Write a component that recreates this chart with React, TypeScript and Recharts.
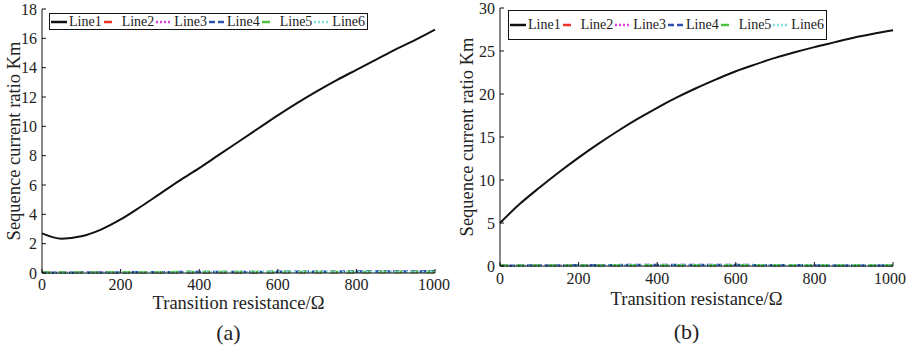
import React from 'react'
import { LineChart, Line, XAxis, YAxis, Legend } from 'recharts'

const resistance = [0, 50, 100, 150, 200, 250, 300, 350, 400, 450, 500, 550, 600, 650, 700, 750, 800, 850, 900, 950, 1000]

// (a)
const a_line1 = [2.7, 2.34, 2.5, 2.96, 3.65, 4.5, 5.4, 6.3, 7.15, 8.05, 8.95, 9.85, 10.75, 11.6, 12.4, 13.15, 13.85, 14.55, 15.25, 15.9, 16.6]
const a_line2 = [0.02, 0.02, 0.02, 0.03, 0.03, 0.03, 0.03, 0.04, 0.04, 0.04, 0.04, 0.04, 0.05, 0.05, 0.05, 0.05, 0.05, 0.06, 0.06, 0.06, 0.06]
const a_line3 = [0.03, 0.03, 0.03, 0.04, 0.04, 0.04, 0.05, 0.05, 0.05, 0.05, 0.06, 0.06, 0.06, 0.06, 0.07, 0.07, 0.07, 0.07, 0.08, 0.08, 0.08]
const a_line4 = [0.02, 0.02, 0.03, 0.03, 0.04, 0.05, 0.05, 0.06, 0.06, 0.07, 0.07, 0.07, 0.08, 0.08, 0.08, 0.09, 0.1, 0.1, 0.11, 0.11, 0.12]
const a_line5 = [0.03, 0.03, 0.04, 0.04, 0.05, 0.05, 0.05, 0.06, 0.06, 0.06, 0.06, 0.06, 0.07, 0.07, 0.07, 0.07, 0.07, 0.07, 0.07, 0.07, 0.07]
const a_line6 = [0.01, 0.01, 0.02, 0.02, 0.03, 0.03, 0.04, 0.04, 0.05, 0.05, 0.05, 0.06, 0.06, 0.06, 0.07, 0.07, 0.08, 0.08, 0.09, 0.09, 0.1]

// (b)
const b_line1 = [5.0, 7.2, 9.1, 10.9, 12.6, 14.2, 15.7, 17.1, 18.4, 19.6, 20.7, 21.7, 22.65, 23.45, 24.2, 24.85, 25.45, 26.0, 26.55, 27.0, 27.4]
const b_line2 = [0.03, 0.03, 0.04, 0.04, 0.05, 0.05, 0.05, 0.06, 0.06, 0.06, 0.06, 0.06, 0.06, 0.06, 0.06, 0.05, 0.05, 0.05, 0.05, 0.05, 0.05]
const b_line3 = [0.04, 0.04, 0.05, 0.05, 0.06, 0.06, 0.07, 0.07, 0.07, 0.07, 0.07, 0.07, 0.07, 0.07, 0.06, 0.06, 0.06, 0.06, 0.06, 0.06, 0.06]
const b_line4 = [0.03, 0.04, 0.05, 0.06, 0.08, 0.09, 0.1, 0.11, 0.12, 0.12, 0.12, 0.12, 0.11, 0.1, 0.09, 0.08, 0.07, 0.06, 0.05, 0.05, 0.04]
const b_line5 = [0.05, 0.05, 0.06, 0.06, 0.07, 0.07, 0.08, 0.08, 0.08, 0.08, 0.08, 0.08, 0.08, 0.08, 0.08, 0.08, 0.08, 0.08, 0.08, 0.08, 0.08]
const b_line6 = [0.02, 0.02, 0.03, 0.03, 0.04, 0.04, 0.05, 0.05, 0.05, 0.05, 0.05, 0.05, 0.05, 0.05, 0.05, 0.05, 0.05, 0.05, 0.05, 0.05, 0.05]

const xTicks = [0, 200, 400, 600, 800, 1000]
const aYTicks = [0, 2, 4, 6, 8, 10, 12, 14, 16, 18]
const bYTicks = [0, 5, 10, 15, 20, 25, 30]

const FONT = '"Liberation Serif", "Times New Roman", serif'

const series = [
  { key: 'Line1', color: '#111111', dash: undefined, width: 2 },
  { key: 'Line2', color: '#e8322a', dash: '8 8', width: 2.5 },
  { key: 'Line3', color: '#e040e0', dash: '2 2', width: 2 },
  { key: 'Line4', color: '#2f4fb0', dash: '6 3', width: 2.5 },
  { key: 'Line5', color: '#50c040', dash: '8 8', width: 2.5 },
  { key: 'Line6', color: '#80e0e0', dash: '2 2', width: 2 },
]

const toRows = (cols: number[][]) =>
  resistance.map((r, i) => ({
    r,
    Line1: cols[0][i],
    Line2: cols[1][i],
    Line3: cols[2][i],
    Line4: cols[3][i],
    Line5: cols[4][i],
    Line6: cols[5][i],
  }))

const dataA = toRows([a_line1, a_line2, a_line3, a_line4, a_line5, a_line6])
const dataB = toRows([b_line1, b_line2, b_line3, b_line4, b_line5, b_line6])

const LegendBox = ({ height }: { height: number }) => (
  <div
    style={{
      display: 'flex',
      alignItems: 'center',
      height,
      width: 319,
      border: '1.5px solid #111',
      background: '#fff',
      fontFamily: FONT,
      fontSize: 14,
      color: '#222',
      boxSizing: 'border-box',
      paddingLeft: 1,
    }}
  >
    {series.map(s => (
      <div key={s.key} style={{ display: 'flex', alignItems: 'center', width: 52.7 }}>
        <svg width={16} height={6} style={{ marginRight: 2 }}>
          <line x1={0} y1={3} x2={16} y2={3} stroke={s.color} strokeWidth={2.5} strokeDasharray={s.dash} />
        </svg>
        <span>{s.key}</span>
      </div>
    ))}
  </div>
)

const YTitle = ({ viewBox, dx }: any) => {
  const x = viewBox.x + dx
  const y = viewBox.y + viewBox.height / 2
  return (
    <text x={x} y={y} transform={`rotate(-90, ${x}, ${y})`} textAnchor="middle" dominantBaseline="central"
      fontFamily={FONT} fontSize={18.5} fill="#222">
      Sequence current ratio Km
    </text>
  )
}

const XTitle = ({ viewBox, dy, caption, capDy }: any) => {
  const cx = viewBox.x + viewBox.width / 2
  return (
    <g>
      <text x={cx} y={viewBox.y + dy} textAnchor="middle" dominantBaseline="central" fontFamily={FONT} fontSize={18.5} fill="#222">
        Transition resistance/Ω
      </text>
      <text x={cx - 10} y={viewBox.y + capDy} textAnchor="middle" dominantBaseline="central" fontFamily={FONT} fontSize={22} fill="#222">
        {caption}
      </text>
    </g>
  )
}

function Panel({ data, yMax, yTicks, yWidth, margin, legendPos, legendH, caption, titleDy, capDy, yTitleDx, tickGap }: any) {
  const tick = { fontFamily: FONT, fontSize: 16, fill: '#222' }
  return (
    <LineChart width={450} height={349} data={data} margin={margin}>
      <XAxis
        dataKey="r"
        type="number"
        domain={[0, 1000]}
        ticks={xTicks}
        tick={tick}
        tickSize={-4}
        tickMargin={tickGap}
        height={30}
        axisLine={{ stroke: '#111' }}
        tickLine={{ stroke: '#111' }}
        label={<XTitle dy={titleDy} caption={caption} capDy={capDy} />}
      />
      <YAxis
        type="number"
        domain={[0, yMax]}
        ticks={yTicks}
        tick={tick}
        tickSize={-4}
        tickMargin={9}
        width={yWidth}
        axisLine={{ stroke: '#111' }}
        tickLine={{ stroke: '#111' }}
        interval={0}
        label={<YTitle dx={yTitleDx} />}
      />
      <Legend
        layout="horizontal"
        verticalAlign="middle"
        align="center"
        content={() => <LegendBox height={legendH} />}
        wrapperStyle={{ position: 'absolute', left: legendPos[0], top: legendPos[1], width: 'auto', bottom: 'auto' }}
      />
      {series.slice(1).map(s => (
        <Line key={s.key} dataKey={s.key} type="monotone" stroke={s.color} strokeWidth={s.width}
          strokeDasharray={s.dash} dot={false} isAnimationActive={false} />
      ))}
      <Line dataKey="Line1" type="monotone" stroke="#111" strokeWidth={2} dot={false} isAnimationActive={false} />
    </LineChart>
  )
}

export default function App() {
  return (
    <div style={{ position: 'fixed', left: 0, top: 0, width: 913, height: 349, background: '#fff' }}>
      <div style={{ position: 'absolute', left: 0, top: 0 }}>
        <Panel data={dataA} yMax={18} yTicks={aYTicks} yWidth={42}
          margin={{ top: 9, right: 15, left: 0, bottom: 46 }}
          legendPos={[49, 13]} legendH={17} caption="(a)" titleDy={30} capDy={59} yTitleDx={14} tickGap={10} />
      </div>
      <div style={{ position: 'absolute', left: 456, top: 0 }}>
        <Panel data={dataB} yMax={30} yTicks={bYTicks} yWidth={44}
          margin={{ top: 8, right: 13, left: 0, bottom: 53 }}
          legendPos={[52, 10]} legendH={30} caption="(b)" titleDy={33} capDy={65} yTitleDx={11} tickGap={11} />
      </div>
    </div>
  )
}
